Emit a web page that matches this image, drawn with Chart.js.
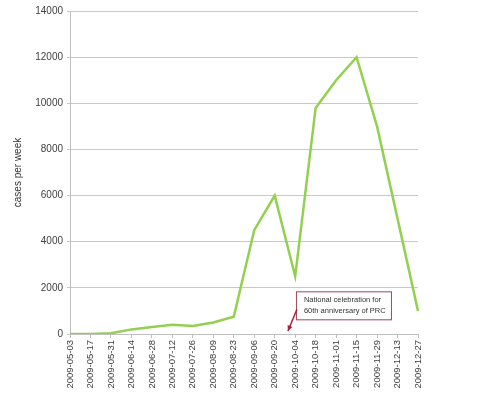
<!DOCTYPE html>
<html>
<head>
<meta charset="utf-8">
<script src="https://cdn.jsdelivr.net/npm/chart.js@4"></script>
<style>
  html, body { margin: 0; padding: 0; background: #ffffff; }
  #wrap { width: 500px; height: 394px; position: relative; }
</style>
</head>
<body>
<div id="wrap"><canvas id="casesChart"></canvas></div>
<script>
// Weekly cases, sampled every two weeks
const weeks = ['2009-05-03', '2009-05-17', '2009-05-31', '2009-06-14', '2009-06-28', '2009-07-12',
  '2009-07-26', '2009-08-09', '2009-08-23', '2009-09-06', '2009-09-20', '2009-10-04',
  '2009-10-18', '2009-11-01', '2009-11-15', '2009-11-29', '2009-12-13', '2009-12-27'];
const cases = [0, 0, 30, 200, 300, 400, 350, 500, 750, 4500, 6000, 2500, 9800, 11000, 12000, 9000, 5000, 1000];
const yTicks = [0, 2000, 4000, 6000, 8000, 10000, 12000, 14000];
const noteLines = ['National celebration for', '60th anniversary of PRC'];

const FONT = 'Liberation Sans, Arial, sans-serif';

// Callout box with arrow pointing at the 10-04 week
const calloutPlugin = {
  id: 'callout',
  afterDatasetsDraw(chart) {
    const { ctx, scales } = chart;
    const xTip = (scales.x.getPixelForValue(10) + scales.x.getPixelForValue(11)) / 2 + 3;
    const yTip = scales.y.getPixelForValue(0) - 3;
    const bx = xTip + 8, by = scales.y.getPixelForValue(1850);
    const bw = 95, bh = 28;
    ctx.save();
    ctx.fillStyle = '#ffffff';
    ctx.strokeStyle = '#a0455a';
    ctx.lineWidth = 1;
    ctx.fillRect(bx, by, bw, bh);
    ctx.strokeRect(bx + 0.5, by + 0.5, bw, bh);
    ctx.fillStyle = '#333333';
    ctx.font = '7.5px ' + FONT;
    ctx.textBaseline = 'middle';
    ctx.fillText(noteLines[0], bx + 8, by + 9);
    ctx.fillText(noteLines[1], bx + 8, by + 20);
    // arrow
    ctx.strokeStyle = '#a3223d';
    ctx.lineWidth = 1.5;
    ctx.beginPath();
    ctx.moveTo(bx + 1, by + bh - 10);
    ctx.lineTo(xTip, yTip);
    ctx.stroke();
    const ang = Math.atan2(yTip - (by + bh - 10), xTip - (bx + 1));
    ctx.fillStyle = '#a3223d';
    ctx.beginPath();
    ctx.moveTo(xTip, yTip);
    ctx.lineTo(xTip - 6 * Math.cos(ang - 0.45), yTip - 6 * Math.sin(ang - 0.45));
    ctx.lineTo(xTip - 6 * Math.cos(ang + 0.45), yTip - 6 * Math.sin(ang + 0.45));
    ctx.closePath();
    ctx.fill();
    ctx.restore();
  }
};

new Chart(document.getElementById('casesChart'), {
  type: 'line',
  data: {
    labels: weeks,
    datasets: [{
      data: cases,
      borderColor: '#92d050',
      borderWidth: 2.5,
      pointRadius: 0,
      tension: 0,
      fill: false
    }]
  },
  options: {
    responsive: true,
    maintainAspectRatio: false,
    animation: false,
    layout: { padding: { top: 11, right: 82, left: 0, bottom: 0 } },
    plugins: { legend: { display: false }, tooltip: { enabled: false } },
    scales: {
      x: {
        offset: false,
        grid: { drawOnChartArea: false, drawTicks: true, tickLength: 4, color: '#bfbfbf' },
        border: { color: '#bfbfbf' },
        ticks: {
          autoSkip: false, minRotation: 90, maxRotation: 90,
          color: '#404040', font: { family: FONT, size: 9.5 }, padding: 2
        },
        afterFit(scale) { scale.height = 60; }
      },
      y: {
        min: 0, max: 14000,
        afterBuildTicks(scale) { scale.ticks = yTicks.map(v => ({ value: v })); },
        grid: { color: '#c8c8c8', tickLength: 3 },
        border: { color: '#bfbfbf' },
        ticks: { color: '#404040', font: { family: FONT, size: 10 }, padding: 4, callback: v => String(v) },
        title: { display: true, text: 'cases per week', color: '#333333', font: { family: FONT, size: 10 }, padding: { top: 12, bottom: 4 } },
        afterFit(scale) { scale.width = 70; }
      }
    }
  },
  plugins: [calloutPlugin]
});
</script>
</body>
</html>
